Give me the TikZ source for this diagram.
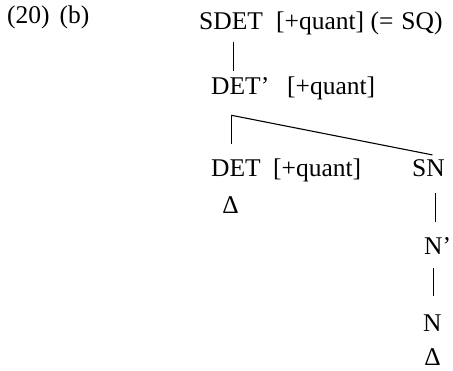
\documentclass[tikz,border=0pt]{standalone}
\usepackage{fontspec}
\setmainfont{Liberation Serif}
\usepackage{tikz}
\usetikzlibrary{positioning}

\tikzset{
  cat/.style={anchor=base west,inner sep=0pt},
  tri/.style={anchor=base,inner sep=0pt},
  branch/.style={line width=1.1pt}
}

\begin{document}
\begin{tikzpicture}[x=1pt,y=-1pt,font=\fontsize{25.5}{30}\selectfont]
    \useasboundingbox (0,0) rectangle (453,371);

    % Example number
    \node[cat] (ex) at (7,24) {(20)\hspace{10pt}(b)};

    % Tree labels
    \node[cat] (sdet) at (199,30) {SDET};
    \node[cat] (sdetf) at (276,30) {[+quant] (=\hspace{8pt}SQ)};
    \node[cat] (detp) at (211,95) {DET'};
    \node[cat] (detpf) at (287,95) {[+quant]};
    \node[cat] (det) at (211,177) {DET};
    \node[cat] (detf) at (273,177) {[+quant]};
    \node[cat] (sn) at (412,177) {SN};
    \node[cat] (np) at (424,255) {N'};
    \node[cat] (n) at (423,332) {N};

    % Empty heads
    \node[tri] (delta1) at (230.5,214) {Δ};
    \node[tri] (delta2) at (432.5,366) {Δ};

    % Branches
    \coordinate (fork) at ([xshift=-9pt,yshift=-20pt]detp.south);
    \draw[branch,shorten <=12pt,shorten >=7pt] ([xshift=2pt]sdet.south) -- ([xshift=2pt]sdet.south |- detp.north);
    \draw[branch,shorten >=16pt] (fork) -- (fork |- det.north);
    \draw[branch] (fork) -- ([xshift=4pt,yshift=5pt]sn.north);
    \draw[branch,shorten <=16pt,shorten >=16pt] ([xshift=7pt]sn.south) -- ([xshift=7pt]sn.south |- np.north);
    \draw[branch,shorten <=13pt,shorten >=19pt] ([xshift=-4pt]np.south) -- ([xshift=-4pt]np.south |- n.north);
\end{tikzpicture}
\end{document}
